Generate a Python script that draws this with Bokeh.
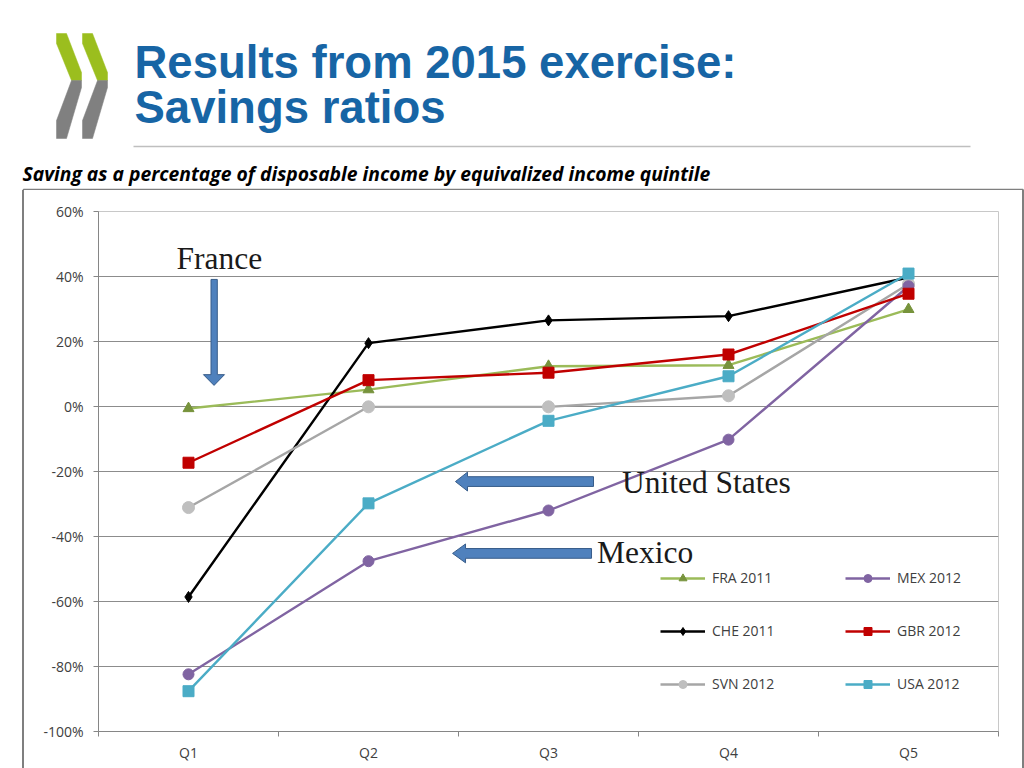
from bokeh.plotting import figure
from bokeh.layouts import column, row
from bokeh.models import Label, Legend, LegendItem, FixedTicker, Range1d, Div, Spacer
from bokeh.embed import file_html
from bokeh.resources import INLINE

# ---------------- data ----------------
categories = ["Q1", "Q2", "Q3", "Q4", "Q5"]
fra_2011 = [-0.6, 5.2, 12.4, 12.7, 29.9]
che_2011 = [-58.6, 19.5, 26.5, 27.8, 39.7]
svn_2012 = [-31.1, -0.1, -0.1, 3.3, 37.7]
mex_2012 = [-82.4, -47.6, -32.0, -10.2, 37.0]
gbr_2012 = [-17.3, 8.1, 10.4, 16.0, 34.7]
usa_2012 = [-87.6, -29.8, -4.4, 9.3, 40.9]
series_names = ["FRA 2011", "CHE 2011", "SVN 2012", "MEX 2012", "GBR 2012", "USA 2012"]
y_ticks = [-100, -80, -60, -40, -20, 0, 20, 40, 60]
y_tick_labels = ["-100%", "-80%", "-60%", "-40%", "-20%", "0%", "20%", "40%", "60%"]

series_values = [fra_2011, che_2011, svn_2012, mex_2012, gbr_2012, usa_2012]
styles = [
    dict(line="#9BBB59", marker="triangle", fill="#77933C", size=11),
    dict(line="#000000", marker="diamond", fill="#000000", size=11),
    dict(line="#A6A6A6", marker="circle", fill="#BFBFBF", size=12),
    dict(line="#8064A2", marker="circle", fill="#8064A2", size=11),
    dict(line="#C00000", marker="square", fill="#C00000", size=11),
    dict(line="#4BACC6", marker="square", fill="#4BACC6", size=11),
]

xpos = [i + 1 for i in range(len(categories))]
bounds = [i + 0.5 for i in range(len(categories) + 1)]

BOX_COL = "#7F7F7F"
HEADER_H = 190
CHART_H = 768 - HEADER_H
CHART_X0 = 24
CHART_X1 = 1022
CHART_W = CHART_X1 - CHART_X0


def up(size, k=0.235):
    # compensation for the text box descent used by alphabetic baseline
    return size * k


# ---------------- header figure (pixel coordinates) ----------------
h = figure(width=1024, height=HEADER_H, x_range=Range1d(0, 1024), y_range=Range1d(HEADER_H, 0),
           output_backend="svg", toolbar_location=None, x_axis_type=None, y_axis_type=None,
           min_border=0)
h.grid.visible = False
h.outline_line_color = None
h.background_fill_color = "white"
h.border_fill_color = "white"

green = "#9BBE1E"
grey = "#808080"
for off in (0, 26):
    gx = [56, 66, 81, 81, 71, 56]
    gy = [33, 33, 72, 80, 80, 43]
    hx = [71, 81, 81, 66, 56, 56]
    hy = [80, 80, 87, 138, 138, 120]
    h.patch([v + off for v in gx], gy, fill_color=green, line_color=green, line_width=0.5)
    h.patch([v + off for v in hx], hy, fill_color=grey, line_color=grey, line_width=0.5)

title_col = "#1765A5"
for txt, base in [("Results from 2015 exercise:", 73), ("Savings ratios", 118)]:
    h.add_layout(Label(x=134, y=base - up(45.5), text=txt,
                       text_font="Liberation Sans", text_font_style="bold",
                       text_font_size="45.5px", text_color=title_col,
                       text_baseline="alphabetic", text_align="left"))

h.line([133, 970], [146, 146], line_color="#BFBFBF", line_width=1.3)

h.add_layout(Label(x=22, y=178 - up(19.3),
                   text="Saving as a percentage of disposable income by equivalized income quintile",
                   text_font="Open Sans", text_font_style="bold italic", text_font_size="19.3px",
                   text_color="#000000", text_baseline="alphabetic", text_align="left"))

# top edge of the chart box
h.line([23, 23, 1022.5, 1022.5], [HEADER_H + 2, 189, 189, HEADER_H + 2],
       line_color=BOX_COL, line_width=1.6)

# ---------------- chart figure ----------------
FRAME_L, FRAME_R, FRAME_T, FRAME_B = 98, 998, 211, 731

p = figure(width=CHART_W, height=CHART_H, x_range=Range1d(0.5, 5.5), y_range=Range1d(-100, 60),
           output_backend="svg", toolbar_location=None,
           min_border_left=FRAME_L - CHART_X0, min_border_right=CHART_X1 - FRAME_R,
           min_border_top=FRAME_T - HEADER_H, min_border_bottom=768 - FRAME_B)
p.background_fill_color = "white"
p.border_fill_color = "white"
p.outline_line_color = "#C8C8C8"

tick_font = "Open Sans"
axis_col = "#868686"

p.xgrid.visible = False
p.ygrid.grid_line_color = "#8C8C8C"
p.ygrid.grid_line_width = 1

yax = p.yaxis[0]
yax.ticker = FixedTicker(ticks=y_ticks)
yax.major_label_overrides = dict(zip(y_ticks, y_tick_labels))
yax.axis_line_color = axis_col
yax.major_tick_line_color = axis_col
yax.major_tick_out = 5
yax.major_tick_in = 0
yax.minor_tick_line_color = None
yax.major_label_standoff = 10
yax.major_label_text_font = tick_font
yax.major_label_text_font_size = "14px"
yax.major_label_text_color = "#404040"

xax = p.xaxis[0]
xax.ticker = FixedTicker(ticks=xpos, minor_ticks=bounds)
xax.major_label_overrides = dict(zip(xpos, categories))
xax.axis_line_color = axis_col
xax.major_tick_line_color = None
xax.major_tick_out = 0
xax.major_tick_in = 0
xax.minor_tick_line_color = axis_col
xax.minor_tick_out = 5
xax.minor_tick_in = 0
xax.major_label_standoff = 6
xax.major_label_text_font = tick_font
xax.major_label_text_font_size = "14px"
xax.major_label_text_color = "#404040"

# arrows (data units, decoration)
arrow_fill = "#4F81BD"
arrow_line = "#385D8A"
p.patch([1.125, 1.16, 1.16, 1.2, 1.142, 1.083, 1.125],
        [39.1, 39.1, 9.8, 9.8, 6.5, 9.8, 9.8],
        fill_color=arrow_fill, line_color=arrow_line, line_width=1)
p.patch([3.25, 3.25, 2.55, 2.55, 2.483, 2.55, 2.55],
        [-21.6, -24.6, -24.6, -26.0, -23.1, -20.2, -21.6],
        fill_color=arrow_fill, line_color=arrow_line, line_width=1)
p.patch([3.239, 3.239, 2.539, 2.539, 2.467, 2.539, 2.539],
        [-43.7, -46.7, -46.7, -48.1, -45.2, -42.3, -43.7],
        fill_color=arrow_fill, line_color=arrow_line, line_width=1)

serif = "Liberation Serif"
px_per_unit = (FRAME_B - FRAME_T) / 160.0
shift = up(31.5) / px_per_unit
for txt, x, y in [("France", 0.933, 43.3), ("United States", 3.408, -25.8), ("Mexico", 3.27, -47.2)]:
    p.add_layout(Label(x=x, y=y + shift, text=txt, text_font=serif, text_font_size="31.5px",
                       text_color="#1a1a1a", text_baseline="alphabetic", text_align="left"))

items = []
for name, vals, st in zip(series_names, series_values, styles):
    r_line = p.line(xpos, vals, line_color=st["line"], line_width=2.4)
    r_mark = p.scatter(xpos, vals, marker=st["marker"], size=st["size"],
                       fill_color=st["fill"], line_color=st["fill"])
    items.append(LegendItem(label=name, renderers=[r_line, r_mark]))

legend_kw = dict(orientation="vertical", glyph_width=45, glyph_height=20, label_height=20,
                 spacing=33, padding=0, margin=0, label_standoff=7,
                 border_line_alpha=0, background_fill_alpha=0,
                 label_text_font=tick_font, label_text_font_size="14px",
                 label_text_color="#404040")
leg_bottom = FRAME_B - 693.5
leg1 = Legend(items=items[:3], location=(660 - FRAME_L, leg_bottom), **legend_kw)
leg2 = Legend(items=items[3:], location=(845 - FRAME_L, leg_bottom), **legend_kw)
p.add_layout(leg1)
p.add_layout(leg2)

# side edges of the chart box
left_edge = Div(text="", width=2, height=CHART_H, margin=0,
                styles={"background-color": BOX_COL})
right_edge = Div(text="", width=2, height=CHART_H, margin=0,
                 styles={"background-color": BOX_COL})
gap = Spacer(width=22, height=CHART_H, margin=0)

layout = column(h, row(gap, left_edge, p, right_edge, spacing=0), spacing=0)

open("out.html", "w").write(file_html(layout, INLINE))
